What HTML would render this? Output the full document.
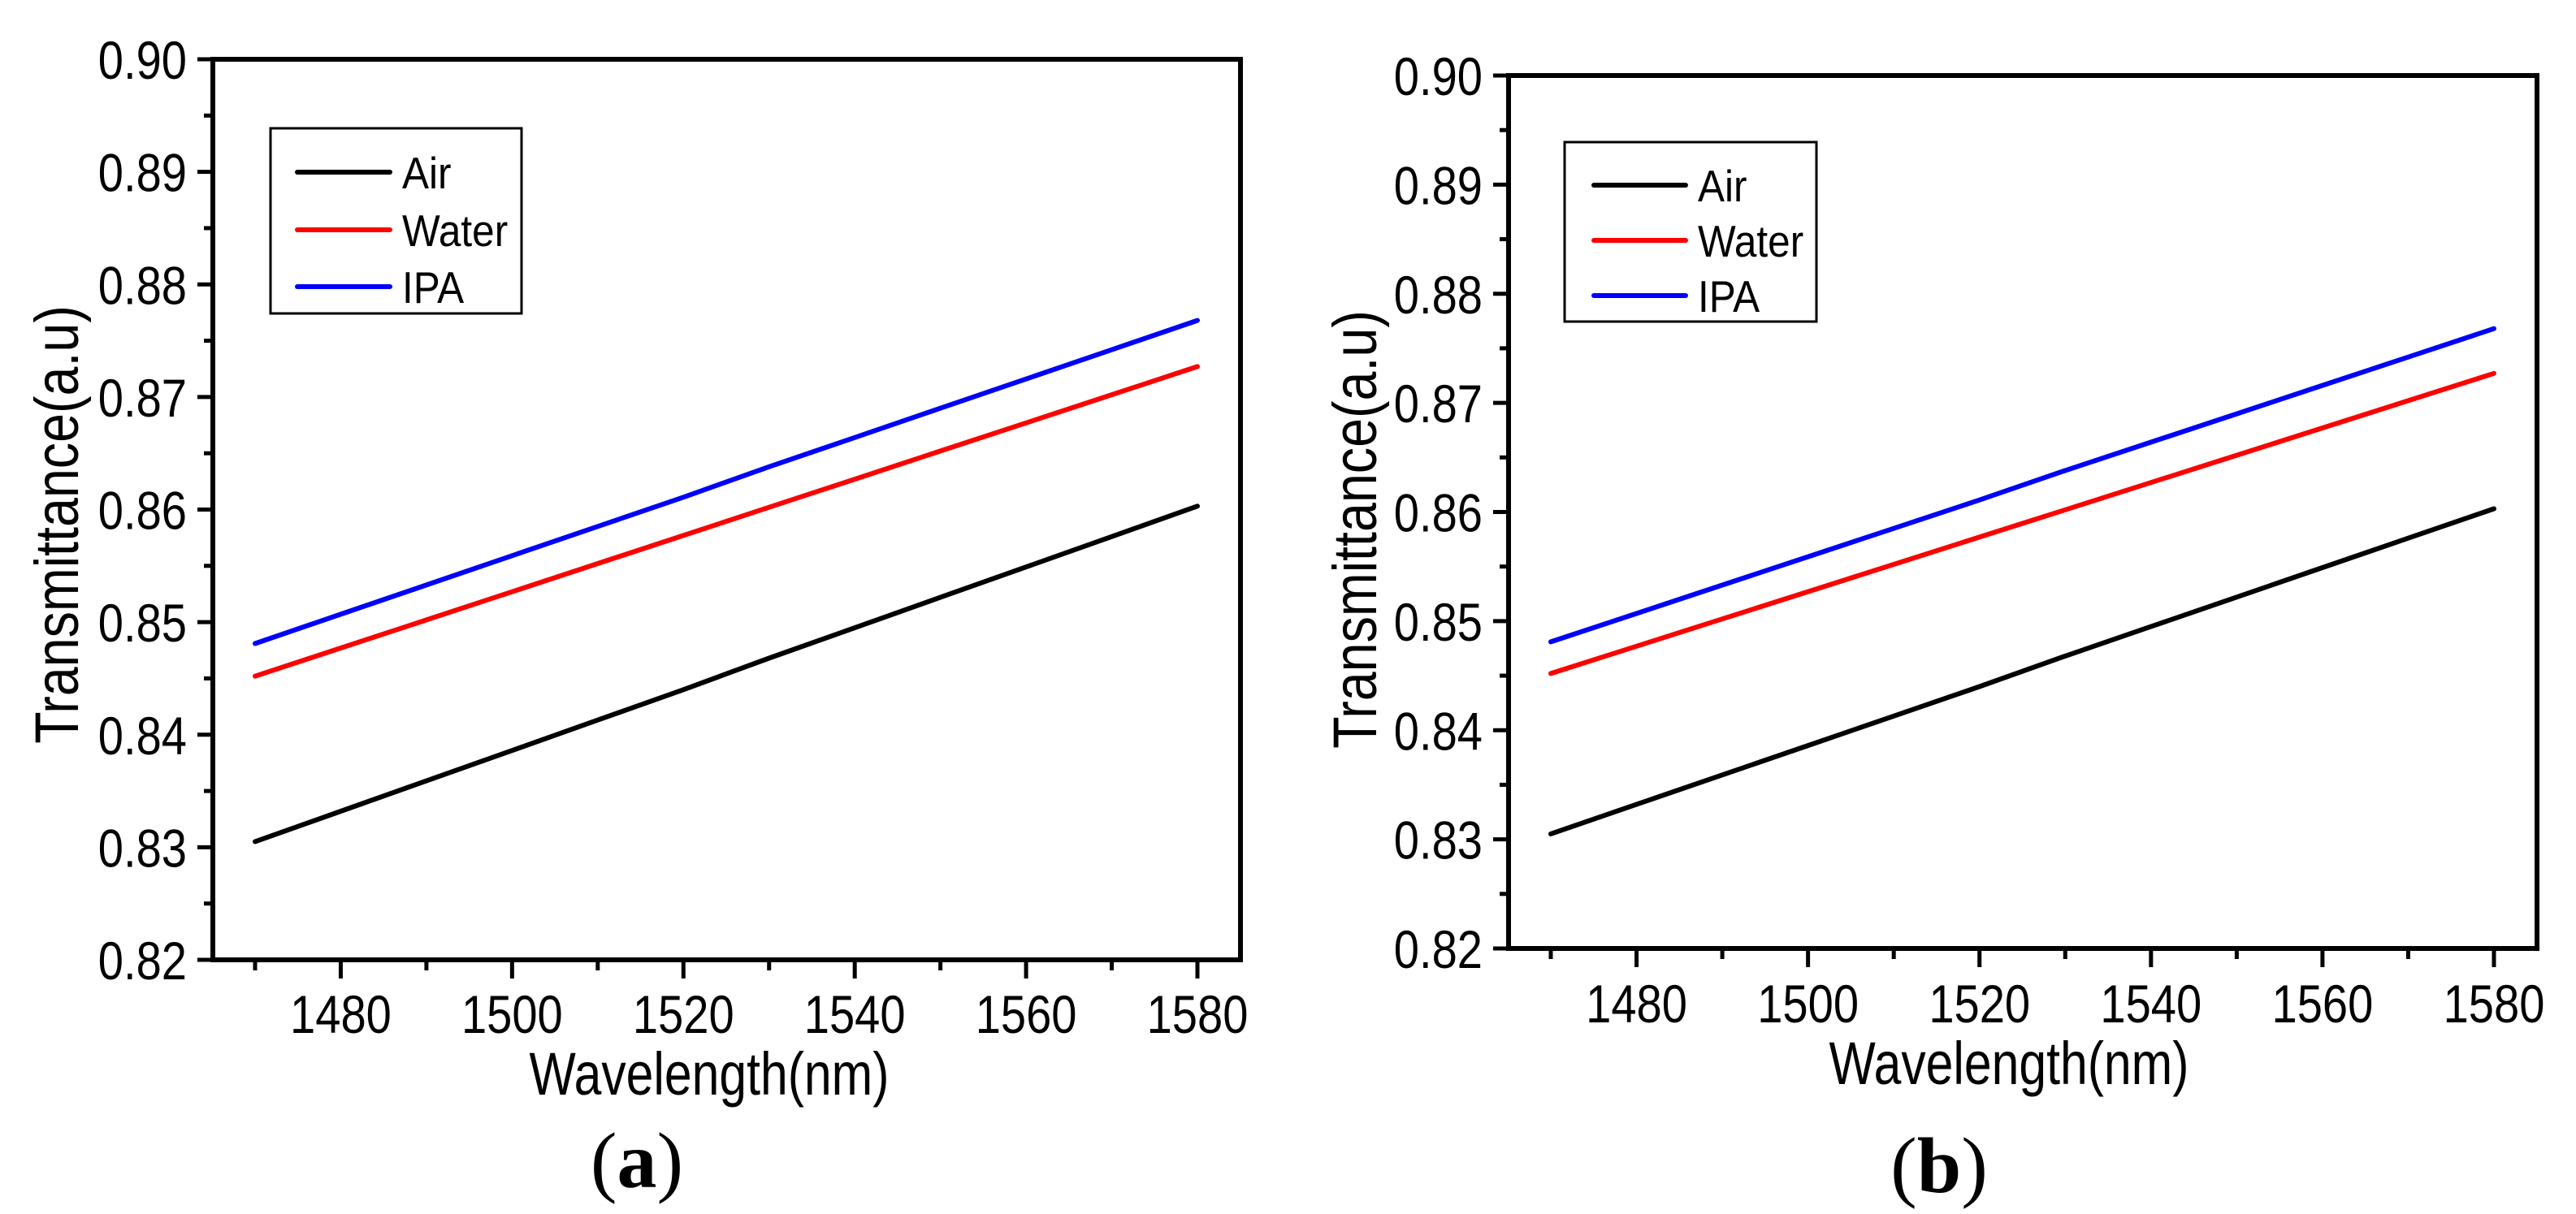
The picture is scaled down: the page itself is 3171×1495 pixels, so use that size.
<!DOCTYPE html>
<html><head><meta charset="utf-8"><style>
html,body{margin:0;padding:0;background:#fff;}
svg{display:block;}
text{font-family:"Liberation Sans",Arial,sans-serif;fill:#000;}
</style></head><body>
<svg id="fig" width="3171" height="1495" viewBox="0 0 3171 1495" xmlns="http://www.w3.org/2000/svg"></svg>
<script>
const wavelengths = [1470,1480,1490,1500,1510,1520,1530,1540,1550,1560,1570,1580];
const airValues   = [0.8305,0.8332,0.8359,0.8386,0.8413,0.8440,0.8468,0.8495,0.8522,0.8549,0.8576,0.8603];
const waterValues = [0.8452,0.8477,0.8502,0.8527,0.8552,0.8577,0.8602,0.8627,0.8652,0.8677,0.8702,0.8727];
const ipaValues   = [0.8481,0.8507,0.8533,0.8559,0.8585,0.8611,0.8638,0.8664,0.8690,0.8716,0.8742,0.8768];
const xTickLabels = ["1480","1500","1520","1540","1560","1580"];
const yTickLabels = ["0.82","0.83","0.84","0.85","0.86","0.87","0.88","0.89","0.90"];
const seriesNames = ["Air","Water","IPA"];

const NS="http://www.w3.org/2000/svg";
const svg=document.getElementById('fig');
function mk(tag,attrs,parent){const e=document.createElementNS(NS,tag);for(const k in attrs)e.setAttribute(k,attrs[k]);(parent||svg).appendChild(e);return e;}
function txt(str,attrs,parent,cond){const t=mk('text',attrs,parent);t.textContent=str;const L=t.getComputedTextLength();if(L>0){t.setAttribute('textLength',(L*cond).toFixed(1));t.setAttribute('lengthAdjust','spacingAndGlyphs');}return t;}

const panels=[
 {id:'a',L:262,R:1527,T:73,B:1182,ytx:96,yty:646,wx:873,wy:1348,xlb:1272,cap:'a',capx:784,capy:1462,
  leg:{x:333,y:158,w:309,h:228,lx1:366,lx2:480,tx:495,rows:[212,283,353]}},
 {id:'b',L:1857,R:3123,T:93,B:1168,ytx:1694,yty:652,wx:2473,wy:1335,xlb:1259,cap:'b',capx:2387,capy:1468,
  leg:{x:1926,y:175,w:310,h:221,lx1:1962,lx2:2075,tx:2090,rows:[228,296,364]}}
];
const seriesData=[airValues,waterValues,ipaValues];
const colors=['#000000','#ff0000','#0000ff'];

panels.forEach(p=>{
  const g=mk('g',{});
  
  
  const xs=v=>p.L+52+(v-1470)*(p.R-p.L-52-53)/110;
  const ys=v=>p.B-(v-0.82)*(p.B-p.T)/0.08;
  seriesData.forEach((vals,i)=>{
    const d=vals.map((v,j)=>(j?'L':'M')+xs(wavelengths[j]).toFixed(1)+' '+ys(v).toFixed(1)).join(' ');
    const path=mk('path',{d:d,fill:'none',stroke:colors[i],'stroke-width':6,'stroke-linecap':'round','stroke-linejoin':'round'},g);
    
    
  });
  const fr=mk('rect',{x:p.L,y:p.T,width:p.R-p.L,height:p.B-p.T,fill:'none',stroke:'#000','stroke-width':6},g);
  
  
  for(let k=0;k<=16;k++){
    const v=0.82+k*0.005, y=ys(v), major=k%2===0;
    mk('line',{x1:p.L,x2:p.L-(major?19:11),y1:y,y2:y,stroke:'#000','stroke-width':5},g);
  }
  yTickLabels.forEach(s=>{
    const t=txt(s,{x:p.L-32,y:ys(parseFloat(s))+24,'font-size':66,'text-anchor':'end'},g,0.85);
    
    
  });
  for(let w=1470;w<=1580;w+=10){
    const x=xs(w), major=(w-1480)%20===0;
    mk('line',{x1:x,x2:x,y1:p.B,y2:p.B+(major?23:13),stroke:'#000','stroke-width':5},g);
  }
  xTickLabels.forEach(s=>{
    const t=txt(s,{x:xs(parseFloat(s)),y:p.xlb,'font-size':66,'text-anchor':'middle'},g,0.85);
    
    
  });
  const yt=txt('Transmittance(a.u)',{x:0,y:0,'font-size':76,'text-anchor':'middle',transform:`translate(${p.ytx},${p.yty}) rotate(-90)`},g,0.85);
  
  
  const xt=txt('Wavelength(nm)',{x:p.wx,y:p.wy,'font-size':74,'text-anchor':'middle'},g,0.82);
  
  
  const lg=mk('g',{},g);
  
  
  mk('rect',{x:p.leg.x,y:p.leg.y,width:p.leg.w,height:p.leg.h,fill:'#fff',stroke:'#000','stroke-width':3},lg);
  seriesNames.forEach((n,i)=>{
    const e=mk('g',{},lg);
    
    
    const ry=p.leg.rows[i];
    mk('line',{x1:p.leg.lx1,x2:p.leg.lx2,y1:ry,y2:ry,stroke:colors[i],'stroke-width':6,'stroke-linecap':'round'},e);
    txt(n,{x:p.leg.tx,y:ry+20,'font-size':55},e,0.9);
  });
  const c=mk('text',{x:p.capx,y:p.capy,'text-anchor':'middle','font-size':98,style:'font-family:"Liberation Serif",serif'},g);
  
  
  const t1=document.createElementNS(NS,'tspan');t1.textContent='(';c.appendChild(t1);
  const t2=document.createElementNS(NS,'tspan');t2.setAttribute('font-weight','bold');t2.textContent=p.cap;c.appendChild(t2);
  const t3=document.createElementNS(NS,'tspan');t3.textContent=')';c.appendChild(t3);
});
</script>
</body></html>
